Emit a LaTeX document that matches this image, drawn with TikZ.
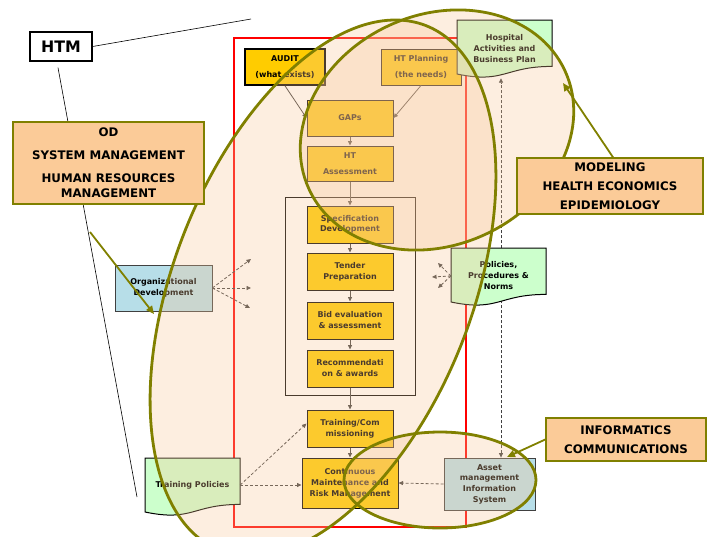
\documentclass[tikz,border=0pt]{standalone}
\usepackage{fontspec}
\setmainfont{DejaVu Sans}
\usetikzlibrary{arrows.meta}

\definecolor{boxyellow}{RGB}{255,204,0}
\definecolor{peach}{RGB}{251,203,152}
\definecolor{overlay}{RGB}{248,198,152}
\definecolor{olivec}{RGB}{128,128,0}
\definecolor{docgreen}{RGB}{204,255,204}
\definecolor{paleblue}{RGB}{183,222,232}
\definecolor{darkline}{RGB}{64,64,64}

\tikzset{
  ybox/.style={draw=black, line width=1pt, fill=boxyellow, inner sep=0pt, align=center,
    minimum width=86pt, minimum height=37pt, font=\fontsize{8}{11}\selectfont\bfseries},
  bluebox/.style={draw=darkline, line width=0.8pt, fill=paleblue, inner sep=0pt, align=center,
    font=\fontsize{8}{11}\selectfont\bfseries},
  doctext/.style={inner sep=0pt, align=center, font=\fontsize{8}{11}\selectfont\bfseries},
  docline/.style={draw=black, line width=1pt, fill=docgreen},
  callout/.style={draw=olivec, line width=1.5pt, fill=peach, inner sep=0pt, align=center,
    font=\fontsize{11.8}{15}\selectfont\bfseries},
  flow/.style={draw=darkline, line width=0.8pt, ->},
  dashflow/.style={flow, dash pattern=on 3pt off 2pt},
  olivearrow/.style={draw=olivec, line width=1.8pt, -{Triangle[length=8pt,width=7pt]}},
  ring/.style={draw=olivec, line width=2.8pt},
  tint/.style={fill=overlay, fill opacity=0.3},
}

\begin{document}
\begin{tikzpicture}[x=1pt, y=-1pt, >={Triangle[length=4.5pt,width=4pt]}]
  \useasboundingbox (0,0) rectangle (709,536);

  % HTM and its lines
  \node[draw=black, fill=white, line width=1.3pt, minimum width=62pt, minimum height=29pt, inner sep=0pt,
        font=\fontsize{15.8}{18}\selectfont\bfseries] (htm) at (61,46.5) {HTM};
  \coordinate (htmtop) at (251,19);
  \coordinate (htmfoot) at (137,497);
  \draw[line width=0.6pt] (htm.east) -- (htmtop);
  \draw[line width=0.6pt] ([xshift=-3pt,yshift=-6pt]htm.south) -- (htmfoot);

  % procurement frame
  \draw[red, line width=1.2pt] (234,38) rectangle (466,527);
  \node[draw=black, line width=0.9pt, minimum width=130pt, minimum height=198pt] (frame) at (350,296) {};

  % steps
  \node[ybox, line width=1.6pt, minimum width=80pt, minimum height=36pt] (audit) at (285,67) {AUDIT\\[5pt](what exists)};
  \node[ybox, minimum width=80pt, minimum height=36pt] (htplan) at (421,67) {HT Planning\\[5pt](the needs)};
  \node[ybox, minimum height=36pt] (gaps) at (350,118) {GAPs};
  \node[ybox, minimum height=35pt] (htass) at (350,163.5) {HT\\[5pt]Assessment};
  \node[ybox, font=\fontsize{8}{10}\selectfont\bfseries] (spec) at (350,224.5) {Specification\\Development};
  \node[ybox] (tender) at (350,271.5) {Tender\\Preparation};
  \node[ybox] (bid) at (350,320.5) {Bid evaluation\\\& assessment};
  \node[ybox] (recom) at (350,368.5) {Recommendati\\on \& awards};
  \node[ybox] (training) at (350,428.5) {Training/Com\\missioning};
  \node[ybox, minimum width=96pt, minimum height=50pt] (contin) at (350,483) {Continuous\\Maintenance and\\Risk Management};

  \draw[flow] (audit.south) -- (gaps.west);
  \draw[flow] (htplan.south) -- (gaps.east);
  \draw[flow] (gaps) -- (htass);
  \draw[flow] (htass) -- (spec);
  \draw[flow] (spec) -- (tender);
  \draw[flow] (tender) -- (bid);
  \draw[flow] (bid) -- (recom);
  \draw[flow] (recom) -- (training);
  \draw[flow] (training) -- (contin);

  % side boxes
  \node[bluebox, minimum width=97pt, minimum height=46pt] (orgdev) at (163.5,288) {Organizational\\Development};
  \coordinate (orgA) at (251,259);
  \coordinate (orgB) at (251,288);
  \coordinate (orgC) at (250,308);
  \draw[dashflow] (orgdev.east) -- (orgA);
  \draw[dashflow] (orgdev.east) -- (orgB);
  \draw[dashflow] (orgdev.east) -- (orgC);

  \node[bluebox, minimum width=91pt, minimum height=52pt, font=\fontsize{8}{10.7}\selectfont\bfseries] (asset) at (489.5,484) {Asset\\management\\Information\\System};
  \draw[dashflow] (asset.west) -- (contin.east);

  \draw[docline] (457,20) -- (552,20) -- (552,66.4) .. controls (504.5,66.4) and (504.5,84) .. (457,74) -- cycle;
  \node[doctext, minimum width=95pt, minimum height=58pt] (hosp) at (504.5,49) {Hospital\\Activities and\\Business Plan};
  \coordinate (planline) at (501,0);
  \draw[dashflow, <->] (asset.north -| planline) -- (hosp.south -| planline);

  \draw[docline] (451,248) -- (546,248) -- (546,294.4) .. controls (498.5,294.4) and (498.5,312) .. (451,302) -- cycle;
  \node[doctext, minimum width=95pt, minimum height=56pt] (policies) at (498.5,276) {Policies,\\Procedures \&\\Norms};
  \coordinate (polA) at (438,263);
  \coordinate (polB) at (432,277);
  \coordinate (polC) at (438,288);
  \draw[dashflow] (policies.west) -- (polA);
  \draw[dashflow] (policies.west) -- (polB);
  \draw[dashflow] (policies.west) -- (polC);

  \draw[docline] (145,458) -- (240,458) -- (240,504.4) .. controls (192.5,504.4) and (192.5,522) .. (145,512) -- cycle;
  \node[doctext, minimum width=95pt, minimum height=54pt] (trpol) at (192.5,485) {Training Policies};
  \draw[dashflow] (trpol.east) -- (trpol.east -| contin.west);
  \draw[dashflow] (trpol.east) -- ([yshift=5pt]training.west);

  % areas
  \fill[tint, shift={(323,288)}, xslant=0.27] (0,0) ellipse [x radius=157pt, y radius=268pt];
  \fill[tint, rotate around={25:(437,130)}] (437,130) ellipse [x radius=141pt, y radius=115pt];
  \fill[tint] (440,480) ellipse [x radius=96pt, y radius=48pt];
  \draw[ring, shift={(323,288)}, xslant=0.27] (0,0) ellipse [x radius=157pt, y radius=268pt];
  \draw[ring, rotate around={25:(437,130)}] (437,130) ellipse [x radius=141pt, y radius=115pt];
  \draw[ring] (440,480) ellipse [x radius=96pt, y radius=48pt];

  % callouts
  \node[callout, minimum width=191pt, minimum height=82pt] (od) at (108.5,163) {OD\\[8pt]SYSTEM MANAGEMENT\\[8pt]HUMAN RESOURCES\\MANAGEMENT};
  \node[callout, minimum width=186pt, minimum height=56pt, font=\fontsize{11.8}{19}\selectfont\bfseries] (model) at (610,186) {MODELING\\HEALTH ECONOMICS\\EPIDEMIOLOGY};
  \node[callout, minimum width=160pt, minimum height=43pt, font=\fontsize{11.8}{19}\selectfont\bfseries] (info) at (626,439.5) {INFORMATICS\\COMMUNICATIONS};

  \coordinate (odtail) at (90,232);
  \coordinate (odtip) at (154,314);
  \coordinate (modtip) at (563,83);
  \coordinate (infotip) at (507,457);
  \draw[olivearrow] (odtail) -- (odtip);
  \draw[olivearrow] ([xshift=3pt]model.north) -- (modtip);
  \draw[olivearrow] (info.west) -- (infotip);
\end{tikzpicture}
\end{document}
